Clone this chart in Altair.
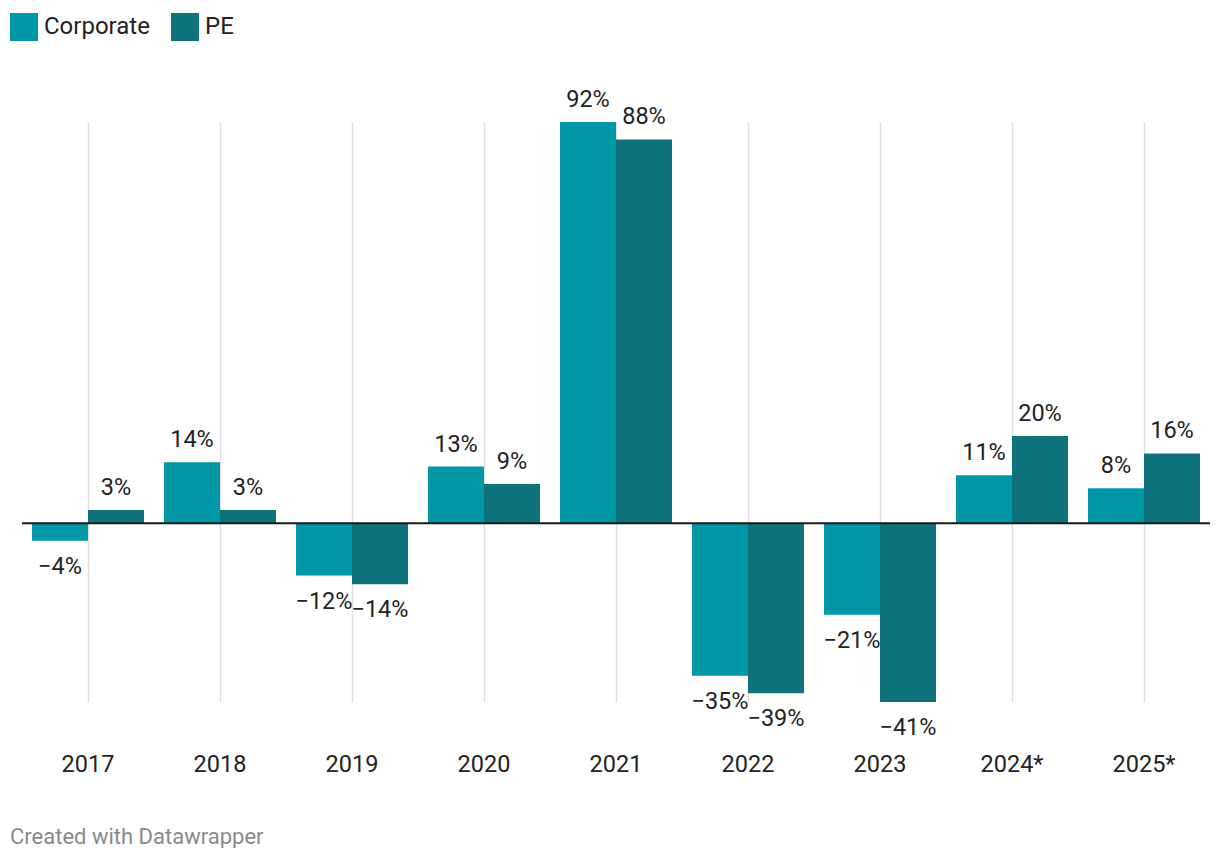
import altair as alt
import pandas as pd

years = ["2017", "2018", "2019", "2020", "2021", "2022", "2023", "2024*", "2025*"]
corporate = [-4, 14, -12, 13, 92, -35, -21, 11, 8]
pe = [3, 3, -14, 9, 88, -39, -41, 20, 16]
series_names = ["Corporate", "PE"]
series_colors = ["#0097a6", "#0f737b"]

rows = []
for y, c, p in zip(years, corporate, pe):
    for s, v in (("Corporate", c), ("PE", p)):
        rows.append({"year": y, "series": s, "value": v,
                     "label": f"{v}%".replace("-", "\u2212")})
df = pd.DataFrame(rows)

FONT = "Roboto"
FS = 23.5
x_enc = alt.X("year:N", sort=years,
              scale=alt.Scale(paddingInner=20 / 132, paddingOuter=10 / 132),
              axis=alt.Axis(title=None, domain=False, ticks=False, labelAngle=0,
                            labelPadding=50, labelFontSize=FS, labelColor="#222222",
                            labelFont=FONT, grid=True, gridColor="#dedede",
                            gridWidth=1.4, bandPosition=0.5))
xo_enc = alt.XOffset("series:N", sort=series_names,
                     scale=alt.Scale(paddingInner=0, paddingOuter=0))
y_scale = alt.Scale(domain=[-41, 92], nice=False, zero=True)

base = alt.Chart(df)

bars = base.mark_bar(size=56, cornerRadius=0).encode(
    x=x_enc,
    xOffset=xo_enc,
    y=alt.Y("value:Q", scale=y_scale, axis=None),
    y2=alt.datum(0),
    color=alt.Color("series:N", sort=series_names,
                    scale=alt.Scale(domain=series_names, range=series_colors),
                    legend=alt.Legend(title=None, orient="none", direction="horizontal",
                                      legendX=-12, legendY=-109,
                                      symbolType="square", symbolSize=784,
                                      symbolStrokeWidth=0, symbolOpacity=1,
                                      labelFont=FONT, labelFontSize=24,
                                      labelColor="#222222", labelOffset=6,
                                      columnPadding=21, padding=0)),
)

pos_labels = base.transform_filter("datum.value >= 0").mark_text(
    baseline="alphabetic", dy=-15, font=FONT, fontSize=FS, color="#222222"
).encode(x=x_enc, xOffset=xo_enc, y=alt.Y("value:Q", scale=y_scale), text="label:N")

neg_labels = base.transform_filter("datum.value < 0").mark_text(
    baseline="alphabetic", dy=33, font=FONT, fontSize=FS, color="#222222"
).encode(x=x_enc, xOffset=xo_enc, y=alt.Y("value:Q", scale=y_scale), text="label:N")

zero = alt.Chart(pd.DataFrame({"v": [0]})).mark_rule(color="#1a1a1a", strokeWidth=2).encode(
    y=alt.Y("v:Q", scale=y_scale)
)

chart = alt.layer(bars, pos_labels, neg_labels, zero).properties(
    width=1188, height=580,
    padding={"left": 14, "top": 114, "right": 0, "bottom": 146},
    autosize=alt.AutoSizeParams(type="none"),
    title=alt.TitleParams("Created with Datawrapper", orient="bottom", anchor="start",
                          frame="group", font=FONT, fontSize=22, fontWeight="normal",
                          color="#8a8a8a", dx=-12, offset=51),
).configure(font=FONT).configure_view(strokeOpacity=0, strokeWidth=0)

chart.save("out.html", embed_options={"renderer": "svg", "actions": False})
